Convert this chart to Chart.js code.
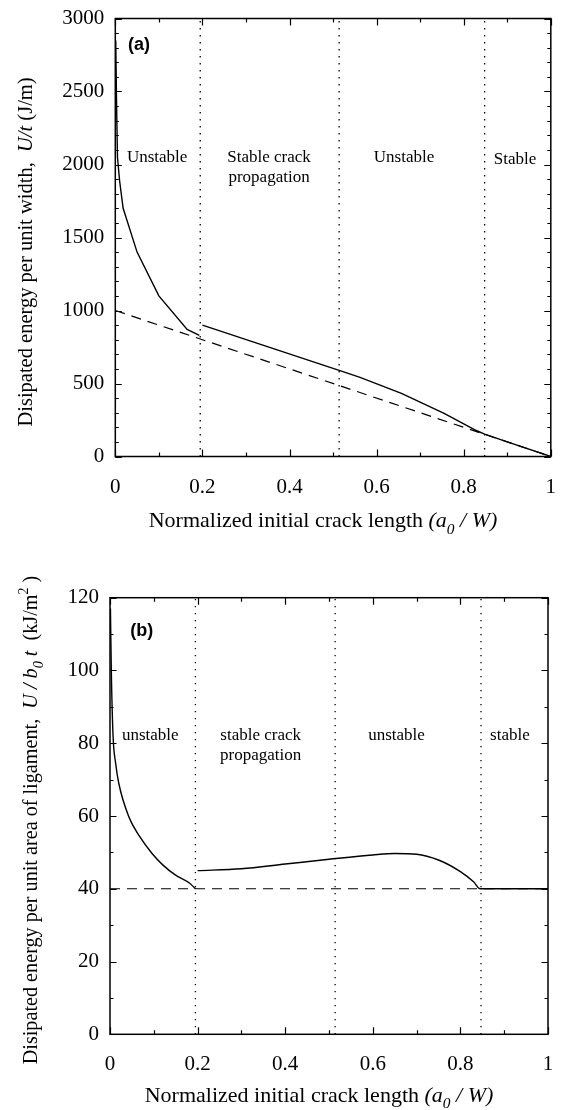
<!DOCTYPE html>
<html><head><meta charset="utf-8">
<script src="https://cdn.jsdelivr.net/npm/chart.js@4.4.1/dist/chart.umd.min.js"></script>
<style>
html,body{margin:0;padding:0;background:#fff;}
#wrap{position:relative;width:562px;height:1110px;background:#fff;}
canvas{position:absolute;left:0;}
#ca{top:0}
#cb{top:555px}
</style></head><body>
<div id="wrap"><canvas id="ca" width="562" height="555"></canvas><canvas id="cb" width="562" height="555"></canvas></div>
<script>
// ---------- data ----------
const xTicks = [0, 0.2, 0.4, 0.6, 0.8, 1];
const xTickLabels = ['0', '0.2', '0.4', '0.6', '0.8', '1'];
const xMinorTicks = [0.1, 0.3, 0.5, 0.7, 0.9];

const aYTicks = [0, 500, 1000, 1500, 2000, 2500, 3000];
const aYTickLabels = ['0', '500', '1000', '1500', '2000', '2500', '3000'];
const aYMinorTicks = [100, 200, 300, 400, 600, 700, 800, 900, 1100, 1200, 1300, 1400, 1600, 1700, 1800, 1900, 2100, 2200, 2300, 2400, 2600, 2700, 2800, 2900];

const bYTicks = [0, 20, 40, 60, 80, 100, 120];
const bYTickLabels = ['0', '20', '40', '60', '80', '100', '120'];
const bYMinorTicks = [10, 30, 50, 70, 90, 110];

// (a) dissipated energy per unit width
const aSeg1X = [0.001, 0.003, 0.005, 0.010, 0.018, 0.050, 0.100, 0.165, 0.193];
const aSeg1Y = [2850, 2400, 2050, 1885, 1700, 1400, 1100, 870, 830];
const aSeg2X = [0.2, 0.514, 0.562, 0.657, 0.755, 0.829, 0.848, 0.9, 1.0];
const aSeg2Y = [900, 590, 542, 433, 296, 178, 153, 100, 0];
const aDashX = [0, 1];
const aDashY = [1000, 0];
const aBounds = [0.195, 0.514, 0.848];

// (b) dissipated energy per unit area of ligament
const bSeg1X = [0.001, 0.003, 0.007, 0.013, 0.02, 0.043, 0.068, 0.096, 0.121, 0.149, 0.182, 0.195];
const bSeg1Y = [117, 100, 82, 74.4, 69, 59.8, 54.3, 49.7, 46.5, 43.8, 41.5, 40];
const bSeg2X = [0.2, 0.3, 0.4, 0.5, 0.6, 0.65, 0.7, 0.75, 0.8, 0.83, 0.845, 1.0];
const bSeg2Y = [45, 45.5, 46.8, 48.1, 49.3, 49.7, 49.5, 47.9, 44.7, 41.9, 40, 40];
const bDashX = [0, 1];
const bDashY = [40, 40];
const bBounds = [0.195, 0.514, 0.847];

// region labels
const aRegions = [['Unstable'], ['Stable crack', 'propagation'], ['Unstable'], ['Stable']];
const aRegionX = [0.096, 0.353, 0.663, 0.918];
const aRegionY = [2051, 2051, 2051, 2035];
const bRegions = [['unstable'], ['stable crack', 'propagation'], ['unstable'], ['stable']];
const bRegionX = [0.092, 0.344, 0.654, 0.913];
const bRegionY = [82, 82, 82, 82];

// ---------- helpers ----------
const SERIF = '"Liberation Serif", "Times New Roman", serif';
const pts = (xs, ys) => xs.map((x, i) => ({x, y: ys[i]}));

function richWidth(ctx, segs, size) {
  let w = 0;
  for (const s of segs) {
    const fs = (s.sub || s.sup) ? size * 0.7 : size;
    ctx.font = (s.it ? 'italic ' : '') + fs + 'px ' + SERIF;
    w += ctx.measureText(s.t).width;
  }
  return w;
}
function drawRich(ctx, segs, size, cx, baseY) {
  const w = richWidth(ctx, segs, size);
  let x = cx - w / 2;
  ctx.textAlign = 'left';
  ctx.textBaseline = 'alphabetic';
  for (const s of segs) {
    const fs = (s.sub || s.sup) ? size * 0.7 : size;
    ctx.font = (s.it ? 'italic ' : '') + fs + 'px ' + SERIF;
    const dy = s.sub ? size * 0.3 : (s.sup ? -size * 0.45 : 0);
    ctx.fillText(s.t, x, baseY + dy);
    x += ctx.measureText(s.t).width;
  }
}

const framePlugin = {
  id: 'frame',
  afterDraw(chart) {
    const o = chart.options.plugins.frame;
    const {ctx, chartArea: ca, scales: {x, y}} = chart;
    ctx.save();
    ctx.fillStyle = '#000';
    ctx.strokeStyle = '#000';
    // inward ticks on all four sides
    ctx.lineWidth = 1.2;
    ctx.beginPath();
    const xt = (vals, len) => vals.forEach(v => {
      const px = Math.round(x.getPixelForValue(v)) + 0.5;
      ctx.moveTo(px, ca.bottom); ctx.lineTo(px, ca.bottom - len);
      ctx.moveTo(px, ca.top); ctx.lineTo(px, ca.top + len);
    });
    const yt = (vals, len) => vals.forEach(v => {
      const py = Math.round(y.getPixelForValue(v)) + 0.5;
      ctx.moveTo(ca.left, py); ctx.lineTo(ca.left + len, py);
      ctx.moveTo(ca.right, py); ctx.lineTo(ca.right - len, py);
    });
    xt(xTicks, 7); xt(xMinorTicks, 4);
    yt(o.yMajor, 6.5); yt(o.yMinor, 3.5);
    ctx.stroke();
    // frame
    ctx.lineWidth = 1.5;
    ctx.strokeRect(ca.left, ca.top, ca.right - ca.left, ca.bottom - ca.top);
    // region labels
    ctx.font = '17px ' + SERIF;
    ctx.textAlign = 'center';
    ctx.textBaseline = 'middle';
    o.regions.forEach((lines, i) => {
      const px = x.getPixelForValue(o.regionX[i]);
      const py = y.getPixelForValue(o.regionY[i]);
      lines.forEach((t, j) => ctx.fillText(t, px, py + j * 20));
    });
    // panel label
    ctx.font = 'bold 18px "Liberation Sans", Arial, sans-serif';
    ctx.textAlign = 'left';
    ctx.fillText(o.panel, x.getPixelForValue(o.panelX), y.getPixelForValue(o.panelY));
    // axis titles
    drawRich(ctx, o.xTitle, 22, o.xTitlePos[0], o.xTitlePos[1]);
    ctx.save();
    ctx.translate(o.yTitlePos[0], o.yTitlePos[1]);
    ctx.rotate(-Math.PI / 2);
    drawRich(ctx, o.yTitle, o.yTitleSize, 0, 0);
    ctx.restore();
    ctx.restore();
  }
};

function makeChart(id, cfg) {
  const solid = {borderColor: '#000', borderWidth: 1.4, pointRadius: 0, fill: false};
  new Chart(document.getElementById(id), {
    type: 'line',
    data: {
      datasets: [
        ...cfg.bounds.map(b => ({data: pts([b, b], [cfg.yMin, cfg.yMax]), borderColor: '#000', borderWidth: 1.3, borderDash: [1.4, 5.6], pointRadius: 0})),
        {data: cfg.dash, borderColor: '#000', borderWidth: 1.2, borderDash: [10, 7], pointRadius: 0},
        {...solid, data: cfg.seg1, cubicInterpolationMode: cfg.smooth ? 'monotone' : 'default'},
        {...solid, data: cfg.seg2, cubicInterpolationMode: cfg.smooth ? 'monotone' : 'default'}
      ]
    },
    options: {
      responsive: false,
      animation: false,
      devicePixelRatio: 1,
      layout: {padding: cfg.padding},
      plugins: {
        legend: {display: false},
        tooltip: {enabled: false},
        frame: cfg.frame
      },
      scales: {
        x: {
          type: 'linear', min: 0, max: 1,
          grid: {display: false, drawTicks: false},
          border: {display: false},
          afterBuildTicks: s => { s.ticks = xTicks.map(v => ({value: v})); },
          afterFit: s => { s.height = cfg.xAxisH; s.paddingLeft = 0; s.paddingRight = 0; },
          ticks: {color: '#000', padding: cfg.xPad, font: {family: SERIF, size: 21},
                  maxRotation: 0, autoSkip: false,
                  callback: (v) => xTickLabels[xTicks.indexOf(v)]}
        },
        y: {
          type: 'linear', min: cfg.yMin, max: cfg.yMax,
          grid: {display: false, drawTicks: false},
          border: {display: false},
          afterBuildTicks: s => { s.ticks = cfg.yTicks.map(v => ({value: v})); },
          afterFit: s => { s.width = cfg.yAxisW; s.paddingTop = 0; s.paddingBottom = 0; },
          ticks: {color: '#000', padding: 11, font: {family: SERIF, size: 21}, autoSkip: false,
                  callback: (v) => cfg.yLabels[cfg.yTicks.indexOf(v)]}
        }
      }
    },
    plugins: [framePlugin]
  });
}

makeChart('ca', {
  yMin: 0, yMax: 3000, yTicks: aYTicks, yLabels: aYTickLabels,
  bounds: aBounds, dash: pts(aDashX, aDashY), seg1: pts(aSeg1X, aSeg1Y), seg2: pts(aSeg2X, aSeg2Y),
  smooth: false,
  padding: {top: 18.5, right: 11.2, left: 0, bottom: 0},
  xAxisH: 98.5, yAxisW: 115.3, xPad: 18,
  frame: {
    yMajor: aYTicks, yMinor: aYMinorTicks,
    regions: aRegions, regionX: aRegionX, regionY: aRegionY,
    panel: '(a)', panelX: 0.029, panelY: 2818,
    xTitle: [{t: 'Normalized initial crack length '}, {t: '(a', it: true}, {t: '0', it: true, sub: true}, {t: ' / W)', it: true}],
    xTitlePos: [323, 527],
    yTitle: [{t: 'Disipated energy per unit width,  '}, {t: 'U/t', it: true}, {t: ' (J/m)'}],
    yTitlePos: [32, 252], yTitleSize: 20.5
  }
});

makeChart('cb', {
  yMin: 0, yMax: 120, yTicks: bYTicks, yLabels: bYTickLabels,
  bounds: bBounds, dash: pts(bDashX, bDashY), seg1: pts(bSeg1X, bSeg1Y), seg2: pts(bSeg2X, bSeg2Y),
  smooth: true,
  padding: {top: 42.7, right: 14, left: 0, bottom: 0},
  xAxisH: 75.7, yAxisW: 110, xPad: 18,
  frame: {
    yMajor: bYTicks, yMinor: bYMinorTicks,
    regions: bRegions, regionX: bRegionX, regionY: bRegionY,
    panel: '(b)', panelX: 0.046, panelY: 110.8,
    xTitle: [{t: 'Normalized initial crack length '}, {t: '(a', it: true}, {t: '0', it: true, sub: true}, {t: ' / W)', it: true}],
    xTitlePos: [319, 546.7],
    yTitle: [{t: 'Disipated energy per unit area of ligament,  '}, {t: 'U / b', it: true}, {t: '0', it: true, sub: true}, {t: ' t', it: true}, {t: '  (kJ/m'}, {t: '2', sup: true}, {t: ' )'}],
    yTitlePos: [37, 265], yTitleSize: 20.2
  }
});
</script>
</body></html>
